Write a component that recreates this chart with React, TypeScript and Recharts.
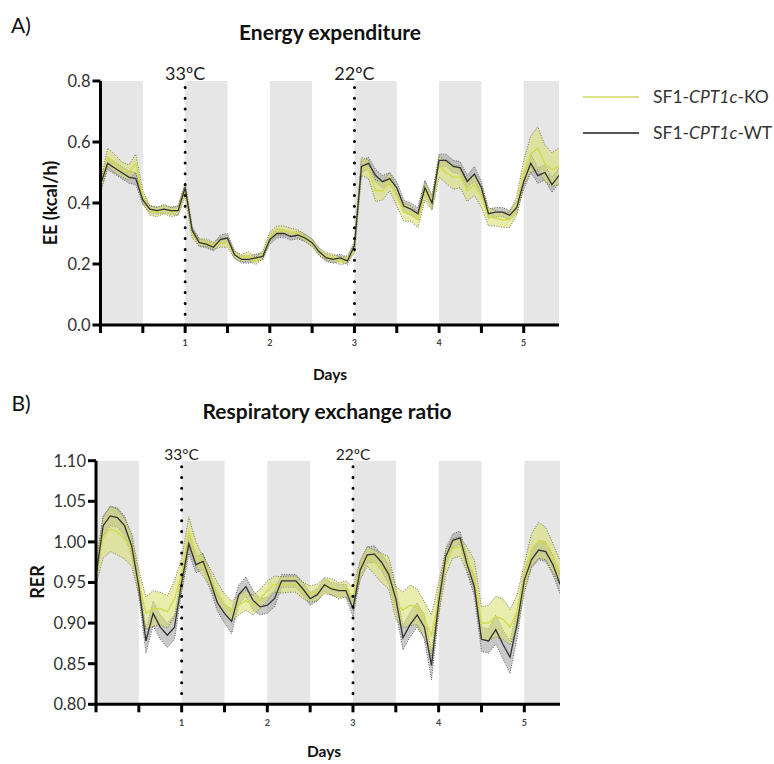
import { ComposedChart, Area, Line, XAxis, YAxis, ReferenceArea, ReferenceLine } from "recharts";

const FONT = "Lato, 'Open Sans', sans-serif";

// time since start of recording, 2 h bins
const hours = [
  0, 2, 4, 6, 8, 10, 12, 14, 16, 18, 20, 22, 24, 26, 28, 30, 32, 34, 36, 38, 40, 42,
  44, 46, 48, 50, 52, 54, 56, 58, 60, 62, 64, 66, 68, 70, 72, 74, 76, 78, 80, 82, 84,
  86, 88, 90, 92, 94, 96, 98, 100, 102, 104, 106, 108, 110, 112, 114, 116, 118, 120,
  122, 124, 126, 128, 130,
];

// energy expenditure (kcal/h), mean and SEM
const eeKo = [
  0.45, 0.55, 0.53, 0.51, 0.5, 0.53, 0.42, 0.375, 0.37, 0.38, 0.37, 0.375, 0.44,
  0.3, 0.27, 0.27, 0.26, 0.27, 0.27, 0.23, 0.22, 0.225, 0.21, 0.23, 0.29,
  0.31, 0.31, 0.305, 0.3, 0.285, 0.27, 0.24, 0.225, 0.22, 0.21, 0.215, 0.25,
  0.52, 0.51, 0.44, 0.44, 0.47, 0.42, 0.37, 0.365, 0.345, 0.44, 0.4, 0.52,
  0.5, 0.485, 0.485, 0.44, 0.46, 0.42, 0.355, 0.35, 0.345, 0.345, 0.39, 0.5,
  0.56, 0.58, 0.53, 0.51, 0.52,
];
const eeKoSem = [
  0.02, 0.03, 0.03, 0.025, 0.025, 0.03, 0.02, 0.015, 0.015, 0.015, 0.015, 0.015, 0.02,
  0.015, 0.012, 0.012, 0.012, 0.015, 0.015, 0.012, 0.012, 0.015, 0.012, 0.012, 0.015,
  0.015, 0.015, 0.012, 0.012, 0.012, 0.012, 0.012, 0.012, 0.012, 0.012, 0.012, 0.015,
  0.03, 0.03, 0.035, 0.03, 0.03, 0.03, 0.03, 0.025, 0.025, 0.03, 0.025, 0.035,
  0.035, 0.04, 0.035, 0.035, 0.035, 0.035, 0.03, 0.025, 0.025, 0.025, 0.03, 0.04,
  0.06, 0.07, 0.06, 0.055, 0.06,
];
const eeWt = [
  0.46, 0.53, 0.515, 0.5, 0.485, 0.48, 0.41, 0.38, 0.375, 0.38, 0.375, 0.375, 0.45,
  0.31, 0.27, 0.265, 0.255, 0.28, 0.285, 0.23, 0.215, 0.215, 0.22, 0.225, 0.28,
  0.3, 0.3, 0.29, 0.295, 0.285, 0.27, 0.24, 0.22, 0.215, 0.22, 0.21, 0.26,
  0.52, 0.53, 0.49, 0.47, 0.48, 0.45, 0.39, 0.38, 0.365, 0.45, 0.4, 0.54,
  0.54, 0.52, 0.515, 0.47, 0.495, 0.45, 0.365, 0.37, 0.37, 0.36, 0.385, 0.47,
  0.53, 0.49, 0.5, 0.46, 0.49,
];
const eeWtSem = [
  0.02, 0.02, 0.02, 0.02, 0.02, 0.02, 0.015, 0.012, 0.012, 0.012, 0.012, 0.015, 0.015,
  0.012, 0.012, 0.012, 0.012, 0.015, 0.015, 0.012, 0.012, 0.012, 0.012, 0.012, 0.015,
  0.015, 0.012, 0.012, 0.012, 0.012, 0.012, 0.012, 0.012, 0.012, 0.012, 0.012, 0.015,
  0.02, 0.02, 0.02, 0.02, 0.02, 0.02, 0.02, 0.02, 0.02, 0.025, 0.02, 0.02,
  0.02, 0.02, 0.02, 0.02, 0.025, 0.02, 0.015, 0.015, 0.015, 0.015, 0.02, 0.025,
  0.03, 0.025, 0.025, 0.025, 0.025,
];

// respiratory exchange ratio, mean and SEM
const rerKo = [
  0.962, 1.005, 1.016, 1.012, 1.004, 0.99, 0.95, 0.912, 0.918, 0.918, 0.914, 0.93, 0.96,
  1.013, 0.985, 0.97, 0.955, 0.938, 0.924, 0.915, 0.922, 0.928, 0.922, 0.93, 0.94,
  0.948, 0.947, 0.948, 0.948, 0.94, 0.936, 0.938, 0.946, 0.945, 0.94, 0.942, 0.932,
  0.965, 0.982, 0.975, 0.968, 0.962, 0.925, 0.916, 0.922, 0.92, 0.904, 0.885, 0.93,
  0.975, 0.992, 0.994, 0.978, 0.96, 0.9, 0.9, 0.908, 0.905, 0.895, 0.915, 0.955,
  0.99, 1.002, 0.998, 0.98, 0.962,
];
const rerKoSem = [
  0.015, 0.025, 0.028, 0.028, 0.025, 0.02, 0.015, 0.02, 0.022, 0.02, 0.02, 0.022, 0.02,
  0.018, 0.015, 0.012, 0.012, 0.012, 0.012, 0.012, 0.012, 0.012, 0.012, 0.012, 0.012,
  0.01, 0.01, 0.01, 0.01, 0.01, 0.01, 0.01, 0.01, 0.01, 0.01, 0.01, 0.012,
  0.012, 0.012, 0.015, 0.018, 0.02, 0.02, 0.022, 0.025, 0.022, 0.022, 0.025, 0.02,
  0.015, 0.012, 0.012, 0.015, 0.018, 0.02, 0.022, 0.025, 0.025, 0.022, 0.02, 0.018,
  0.02, 0.022, 0.02, 0.018, 0.015,
];
const rerWt = [
  0.958, 1.02, 1.032, 1.03, 1.02, 0.995, 0.945, 0.878, 0.912, 0.895, 0.885, 0.895, 0.95,
  0.998, 0.972, 0.976, 0.952, 0.925, 0.912, 0.902, 0.935, 0.945, 0.928, 0.92, 0.922,
  0.93, 0.952, 0.952, 0.952, 0.942, 0.93, 0.935, 0.947, 0.942, 0.94, 0.94, 0.918,
  0.965, 0.984, 0.985, 0.975, 0.96, 0.93, 0.882, 0.898, 0.91, 0.895, 0.848, 0.925,
  0.982, 1.002, 1.005, 0.972, 0.945, 0.88, 0.878, 0.892, 0.874, 0.858, 0.9, 0.953,
  0.978, 0.99, 0.988, 0.972, 0.948,
];
const rerWtSem = [
  0.012, 0.012, 0.012, 0.012, 0.012, 0.012, 0.012, 0.015, 0.015, 0.015, 0.015, 0.015, 0.012,
  0.012, 0.01, 0.01, 0.01, 0.01, 0.012, 0.015, 0.012, 0.012, 0.012, 0.01, 0.01,
  0.01, 0.008, 0.008, 0.008, 0.008, 0.008, 0.008, 0.008, 0.008, 0.008, 0.008, 0.01,
  0.01, 0.01, 0.01, 0.01, 0.012, 0.015, 0.015, 0.015, 0.015, 0.015, 0.018, 0.015,
  0.01, 0.008, 0.008, 0.01, 0.012, 0.015, 0.015, 0.018, 0.018, 0.02, 0.018, 0.012,
  0.01, 0.012, 0.012, 0.012, 0.012,
];

const X_MAX = 130 / 24;
const dayTicks = [0, 0.5, 1, 1.5, 2, 2.5, 3, 3.5, 4, 4.5, 5];
// dark phases
const darkBands: [number, number][] = [[0, 0.5], [1, 1.5], [2, 2.5], [3, 3.5], [4, 4.5], [5, X_MAX]];
const tempSwitches = [
  { day: 1, label: "33ºC" },
  { day: 3, label: "22ºC" },
];

const KO_COLOR = "#d3db4c";
const KO_FILL = "#d6de6a";
const WT_COLOR = "#333333";
const WT_FILL = "#9c9c9c";

function buildRows(ko: number[], koSem: number[], wt: number[], wtSem: number[]) {
  return hours.map((h, i) => ({
    day: h / 24,
    ko: ko[i],
    wt: wt[i],
    koBand: [ko[i] - koSem[i], ko[i] + koSem[i]],
    wtBand: [wt[i] - wtSem[i], wt[i] + wtSem[i]],
  }));
}

const eeRows = buildRows(eeKo, eeKoSem, eeWt, eeWtSem);
const rerRows = buildRows(rerKo, rerKoSem, rerWt, rerWtSem);

type PanelProps = {
  rows: ReturnType<typeof buildRows>;
  top: number;
  height: number;
  plotTop: number;
  plotBottom: number;
  plotLeft: number;
  plotRight: number;
  yDomain: [number, number];
  yTicks: number[];
  digits: number;
  tickSize: number;
  tempSize: number;
};

function Panel(p: PanelProps) {
  const axisStroke = { stroke: "#000", strokeWidth: 3 };
  return (
    <div style={{ position: "absolute", left: 0, top: p.top }}>
      <ComposedChart
        width={774}
        height={p.height}
        data={p.rows}
        margin={{ top: p.plotTop, right: 774 - p.plotRight, bottom: p.height - p.plotBottom - 30, left: 0 }}
      >
        {darkBands.map(([a, b]) => (
          <ReferenceArea key={a} x1={a} x2={b} fill="#e6e6e6" fillOpacity={1} stroke="none" ifOverflow="hidden" />
        ))}
        <XAxis
          type="number"
          dataKey="day"
          domain={[0, X_MAX]}
          ticks={dayTicks}
          allowDataOverflow
          height={30}
          tickSize={8}
          tickMargin={7}
          axisLine={axisStroke}
          tickLine={axisStroke}
          tickFormatter={(v: number) => (Number.isInteger(v) && v > 0 ? String(v) : "")}
          tick={{ fontSize: 9, fontWeight: 700, fill: "#444", fontFamily: FONT }}
        />
        <YAxis
          domain={p.yDomain}
          ticks={p.yTicks}
          allowDataOverflow
          width={p.plotLeft}
          tickSize={8}
          axisLine={axisStroke}
          tickLine={axisStroke}
          tickFormatter={(v: number) => v.toFixed(p.digits)}
          tick={{ fontSize: p.tickSize, fill: "#333", fontFamily: FONT }}
        />
        <Area
          dataKey="wtBand"
          type="linear"
          fill={WT_FILL}
          fillOpacity={0.55}
          stroke="#555"
          strokeWidth={0.9}
          strokeDasharray="1 1.5"
          dot={false}
          activeDot={false}
          isAnimationActive={false}
        />
        <Area
          dataKey="koBand"
          type="linear"
          fill={KO_FILL}
          fillOpacity={0.55}
          stroke="#6b6b40"
          strokeWidth={0.9}
          strokeDasharray="1 1.5"
          dot={false}
          activeDot={false}
          isAnimationActive={false}
        />
        <Line dataKey="ko" type="linear" stroke={KO_COLOR} strokeWidth={1.4} dot={false} isAnimationActive={false} />
        <Line dataKey="wt" type="linear" stroke={WT_COLOR} strokeWidth={1.3} dot={false} isAnimationActive={false} />
        {tempSwitches.map((s) => (
          <ReferenceLine
            key={s.day}
            x={s.day}
            stroke="#000"
            strokeWidth={3}
            strokeDasharray="0 10.8"
            strokeLinecap="round"
            label={{ value: s.label, position: "top", offset: 1, fontSize: p.tempSize, fill: "#222", fontFamily: FONT }}
          />
        ))}
      </ComposedChart>
    </div>
  );
}

const textBase: React.CSSProperties = {
  position: "absolute",
  fontFamily: FONT,
  color: "#111",
  lineHeight: 1,
  whiteSpace: "nowrap",
};

function Centered({ x, y, size, bold, children, rotate }: any) {
  return (
    <div
      style={{
        ...textBase,
        left: x,
        top: y,
        fontSize: size,
        fontWeight: bold ? 700 : 400,
        transform: `translate(-50%, -50%)${rotate ? " rotate(-90deg)" : ""}`,
      }}
    >
      {children}
    </div>
  );
}

function LegendItem({ y, color, name }: { y: number; color: string; name: string }) {
  return (
    <div style={{ ...textBase, left: 583, top: y - 10, display: "flex", alignItems: "center", fontSize: 17.5, color: "#333" }}>
      <svg width={56} height={4} style={{ marginRight: 14 }}>
        <line x1={0} y1={2} x2={56} y2={2} stroke={color} strokeWidth={2} />
      </svg>
      <span>
        SF1-<i>CPT1c</i>-{name}
      </span>
    </div>
  );
}

export default function App() {
  return (
    <div style={{ position: "absolute", left: 0, top: 0, width: 774, height: 764, background: "#fff", overflow: "hidden" }}>
      <Centered x={21} y={24} size={21}>A)</Centered>
      <Centered x={330} y={31} size={21} bold>Energy expenditure</Centered>
      <Panel
        rows={eeRows}
        top={0}
        height={380}
        plotTop={81}
        plotBottom={325}
        plotLeft={100.5}
        plotRight={559}
        yDomain={[0, 0.8]}
        yTicks={[0, 0.2, 0.4, 0.6, 0.8]}
        digits={1}
        tickSize={16.5}
        tempSize={18}
      />
      <Centered x={50} y={203} size={18} bold rotate>EE (kcal/h)</Centered>
      <Centered x={330} y={375} size={15.5} bold>Days</Centered>
      <LegendItem y={98} color="#dbe188" name="KO" />
      <LegendItem y={134} color="#555" name="WT" />

      <Centered x={21} y={402} size={21}>B)</Centered>
      <Centered x={327} y={410} size={21} bold>Respiratory exchange ratio</Centered>
      <Panel
        rows={rerRows}
        top={380}
        height={384}
        plotTop={80.7}
        plotBottom={324.3}
        plotLeft={96}
        plotRight={560}
        yDomain={[0.8, 1.1]}
        yTicks={[0.8, 0.85, 0.9, 0.95, 1.0, 1.05, 1.1]}
        digits={2}
        tickSize={16.5}
        tempSize={15.5}
      />
      <Centered x={37} y={582} size={18} bold rotate>RER</Centered>
      <Centered x={324} y={752} size={15.5} bold>Days</Centered>
    </div>
  );
}
